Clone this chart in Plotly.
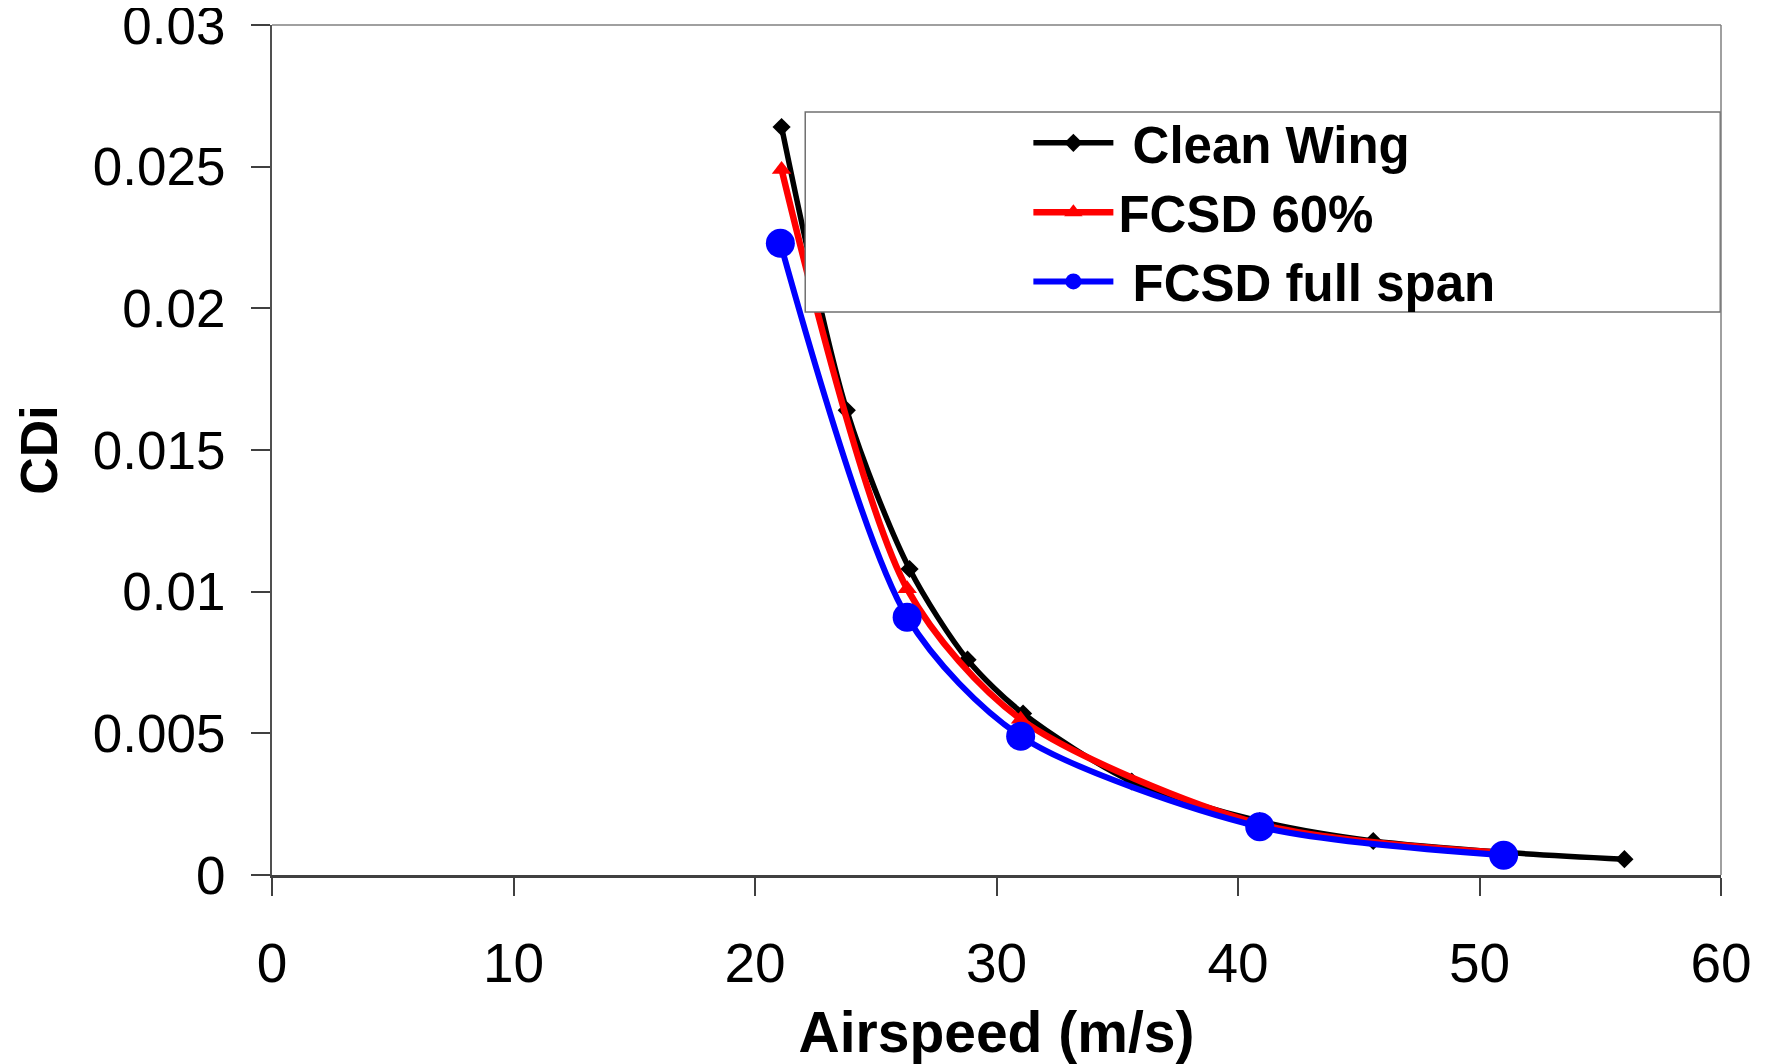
import plotly.graph_objects as go

# --- dados ---
speed_clean = [21.1, 23.8, 26.4, 28.8, 31.1, 35.6, 40.9, 45.6, 51.0, 56.0]
cdi_clean = [0.0264, 0.0164, 0.0108, 0.0076, 0.0057, 0.0033, 0.0019, 0.0012, 0.0008, 0.00056]

speed_fcsd60 = [21.1, 26.3, 31.0, 40.9, 51.0]
cdi_fcsd60 = [0.0249, 0.0101, 0.0055, 0.0018, 0.00078]

speed_full = [21.05, 26.3, 31.0, 40.9, 51.0]
cdi_full = [0.0223, 0.0091, 0.0049, 0.0017, 0.0007]

x_ticks = [0, 10, 20, 30, 40, 50, 60]
y_ticks = [0, 0.005, 0.01, 0.015, 0.02, 0.025, 0.03]
y_tick_labels = ["0", "0.005", "0.01", "0.015", "0.02", "0.025", "0.03"]

FONT = "Liberation Sans, Arial, sans-serif"

fig = go.Figure()

fig.add_trace(go.Scatter(
    x=speed_clean, y=cdi_clean, mode="lines+markers",
    name="\u00a0Clean Wing",
    line=dict(color="#000000", width=5.5, shape="spline", smoothing=0.8),
    marker=dict(symbol="diamond", size=14, color="#000000"),
))
fig.add_trace(go.Scatter(
    x=speed_fcsd60, y=cdi_fcsd60, mode="lines+markers",
    name="FCSD 60%",
    line=dict(color="#FF0000", width=6.5, shape="spline", smoothing=0.8),
    marker=dict(symbol="triangle-up", size=17, color="#FF0000"),
))
fig.add_trace(go.Scatter(
    x=speed_full, y=cdi_full, mode="lines+markers",
    name="\u00a0FCSD full span",
    line=dict(color="#0000FF", width=6, shape="spline", smoothing=0.8),
    marker=dict(symbol="circle", size=29, color="#0000FF"),
))

# caixa da legenda e moldura superior/direita
fig.add_shape(type="rect", xref="paper", yref="paper",
              x0=0.368, x1=0.9995, y0=0.6624, y1=0.8976,
              fillcolor="white", line=dict(color="#707070", width=1.5),
              layer="above")
fig.add_shape(type="line", xref="paper", yref="paper", x0=0, x1=1, y0=1, y1=1,
              line=dict(color="#808080", width=1.5))
fig.add_shape(type="line", xref="paper", yref="paper", x0=1, x1=1, y0=0, y1=1,
              line=dict(color="#808080", width=1.5))

# a página tem 8 px de margem no body: figura 1764x1056
fig.update_layout(
    width=1764, height=1056,
    margin=dict(l=264, r=51, t=17, b=189),
    paper_bgcolor="white", plot_bgcolor="white",
    font=dict(family=FONT, color="black"),
    showlegend=True,
    legend=dict(
        x=0.522, y=0.908, xanchor="left", yanchor="top",
        bgcolor="rgba(0,0,0,0)", borderwidth=0,
        font=dict(family=FONT, size=51, weight="bold", color="black"),
        itemwidth=80,
    ),
    xaxis=dict(
        range=[0, 60], tickvals=x_ticks,
        automargin=False,
        showgrid=False, zeroline=False,
        showline=True, linecolor="#404040", linewidth=3,
        ticks="outside", ticklen=18, tickcolor="#404040", tickwidth=1.5,
        ticklabelstandoff=20,
        tickfont=dict(family=FONT, size=55, color="black"),
        title=dict(text="Airspeed (m/s)", standoff=32,
                   font=dict(family=FONT, size=57, weight="bold", color="black")),
    ),
    yaxis=dict(
        range=[0, 0.03], tickvals=y_ticks, ticktext=y_tick_labels,
        automargin=False, ticklabeloverflow="allow",
        showgrid=False, zeroline=False,
        showline=True, linecolor="#505050", linewidth=2,
        ticks="outside", ticklen=19, tickcolor="#404040", tickwidth=1.5,
        ticklabelstandoff=15,
        tickfont=dict(family=FONT, size=53, color="black"),
        title=dict(text="CDi", standoff=19,
                   font=dict(family=FONT, size=52, weight="bold", color="black")),
    ),
)

fig.write_html("out.html")
